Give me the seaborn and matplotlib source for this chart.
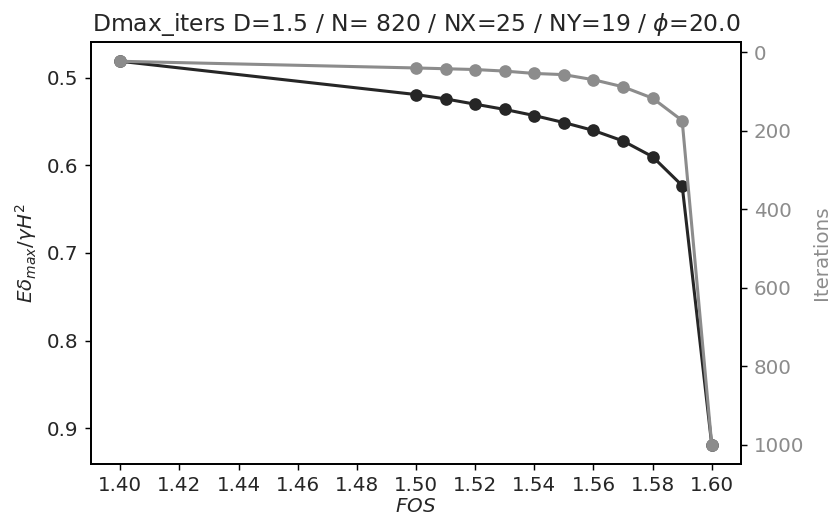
import numpy as np
import pandas as pd
import matplotlib
matplotlib.use("Agg")
import matplotlib.pyplot as plt
import seaborn as sns

# 数据
fos = [1.40, 1.50, 1.51, 1.52, 1.53, 1.54, 1.55, 1.56, 1.57, 1.58, 1.59, 1.60]
dmax = [0.481, 0.519, 0.524, 0.530, 0.536, 0.543, 0.551, 0.560, 0.572, 0.590, 0.623, 0.919]
iters = [23, 40, 42, 44, 48, 54, 57, 70, 88, 117, 174, 1000]

title = r"Dmax_iters D=1.5 / N= 820 / NX=25 / NY=19 / $\phi$=20.0"

df = pd.DataFrame({"FOS": fos, "Dmax": dmax, "Iterations": iters})

sns.set_style("ticks")
plt.rcParams['font.family'] = ['DejaVu Sans']
plt.rcParams['font.size'] = 11

fig, ax = plt.subplots(figsize=(6.4, 4), dpi=130)
ax2 = ax.twinx()

dark = "#262626"
grey = "#8c8c8c"

sns.lineplot(data=df, x="FOS", y="Dmax", ax=ax, color=dark, marker="o",
             markersize=7, markeredgewidth=0, linewidth=1.7)
sns.lineplot(data=df, x="FOS", y="Iterations", ax=ax2, color=grey, marker="o",
             markersize=7, markeredgewidth=0, linewidth=1.7)

ax.invert_yaxis()
ax2.invert_yaxis()

ax.set_xticks(np.arange(1.40, 1.601, 0.02))
ax.set_xticklabels([f"{v:.2f}" for v in np.arange(1.40, 1.601, 0.02)])
ax.set_yticks([0.5, 0.6, 0.7, 0.8, 0.9])
ax2.set_yticks([0, 200, 400, 600, 800, 1000])

ax.set_xlabel(r"$FOS$", labelpad=1)
ax.set_ylabel(r"$E\delta_{max}/\gamma H^2$")
ax2.set_ylabel("Iterations", color=grey)
ax2.tick_params(axis="y", labelcolor=grey)
ax.set_title(title, fontsize=13)

for a in (ax, ax2):
    for s in a.spines.values():
        s.set_color("black")
        s.set_linewidth(1.0)
    a.tick_params(color="black")

fig.subplots_adjust(left=0.109, right=0.891, top=0.919, bottom=0.108)
fig.savefig("out.png", dpi=130)
